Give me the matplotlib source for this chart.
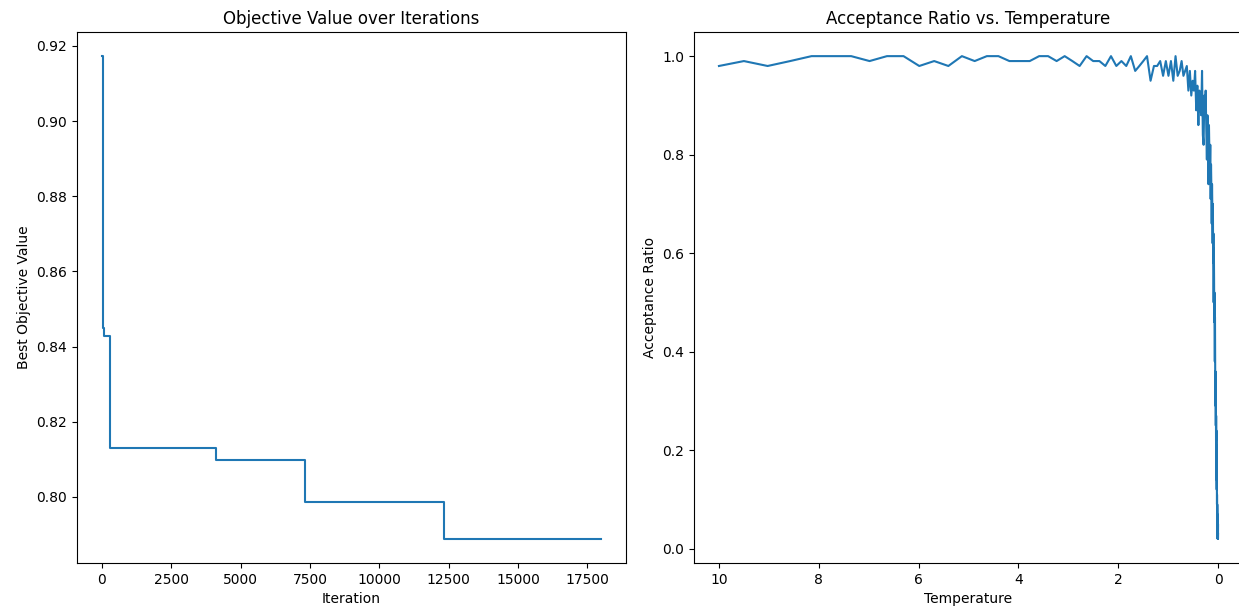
import matplotlib
matplotlib.use("Agg")
import matplotlib.pyplot as plt

# ---- Left panel: best objective value (level starts at each iteration) ----
change_iterations = [0, 20, 40, 75, 300, 4130, 7330, 12350, 17999]
best_values = [0.9173, 0.8963, 0.8449, 0.8427, 0.8129, 0.8099, 0.7987, 0.7888, 0.7888]

# ---- Right panel: acceptance ratio per temperature level ----
temperatures = [
    10.0, 9.5, 9.025, 8.574, 8.145, 7.738, 7.351, 6.983, 6.634, 6.302,
    5.987, 5.688, 5.404, 5.133, 4.877, 4.633, 4.401, 4.181, 3.972, 3.774,
    3.585, 3.406, 3.235, 3.074, 2.920, 2.774, 2.635, 2.503, 2.378, 2.259,
    2.146, 2.039, 1.937, 1.840, 1.748, 1.661, 1.578, 1.499, 1.424, 1.353,
    1.285, 1.221, 1.160, 1.102, 1.047, 0.9944, 0.9447, 0.8974, 0.8526, 0.8099,
    0.7694, 0.7310, 0.6944, 0.6597, 0.6267, 0.5954, 0.5656, 0.5374, 0.5105, 0.4850,
    0.4607, 0.4377, 0.4158, 0.3950, 0.3752, 0.3565, 0.3387, 0.3217, 0.3056, 0.2904,
    0.2759, 0.2621, 0.2490, 0.2365, 0.2247, 0.2134, 0.2028, 0.1926, 0.1830, 0.1739,
    0.1652, 0.1569, 0.1491, 0.1416, 0.1345, 0.1278, 0.1214, 0.1153, 0.1096, 0.1041,
    0.09888, 0.09394, 0.08924, 0.08478, 0.08054, 0.07651, 0.07269, 0.06905, 0.06560, 0.06232,
    0.05921, 0.05625, 0.05343, 0.05076, 0.04822, 0.04581, 0.04352, 0.04135, 0.03928, 0.03731,
    0.03545, 0.03368, 0.03199, 0.03039, 0.02887, 0.02743, 0.02606, 0.02475, 0.02352, 0.02234,
    0.02122, 0.02016, 0.01915, 0.01820, 0.01729, 0.01642, 0.01560, 0.01482, 0.01408, 0.01338,
    0.01271, 0.01207, 0.01147, 0.01090, 0.01035, 0.009834, 0.009342, 0.008875, 0.008431, 0.008010,
    0.007610, 0.007229, 0.006868, 0.006524, 0.006198, 0.005888, 0.005594, 0.005314, 0.005049, 0.004796,
    0.004556, 0.004329, 0.004112, 0.003907, 0.003711, 0.003526, 0.003349, 0.003182, 0.003023, 0.002872,
    0.002728, 0.002592, 0.002462, 0.002339, 0.002222, 0.002111, 0.002005, 0.001905, 0.001810, 0.001719,
    0.001633, 0.001552, 0.001474, 0.001400, 0.001330, 0.001264, 0.001201, 0.001141, 0.001084, 0.001029,
]

acceptance = [
    0.98, 0.99, 0.98, 0.99, 1.00, 1.00, 1.00, 0.99, 1.00, 1.00,
    0.98, 0.99, 0.98, 1.00, 0.99, 1.00, 1.00, 0.99, 0.99, 0.99,
    1.00, 1.00, 0.99, 1.00, 0.99, 0.98, 1.00, 0.99, 0.99, 0.98,
    1.00, 0.98, 0.99, 0.98, 1.00, 0.97, 0.98, 0.99, 1.00, 0.95,
    0.98, 0.98, 0.99, 0.96, 0.99, 0.96, 0.99, 0.95, 1.00, 0.96,
    0.97, 0.99, 0.96, 0.97, 0.98, 0.93, 0.97, 0.92, 0.95, 0.93,
    0.97, 0.89, 0.94, 0.86, 0.93, 0.90, 0.88, 0.97, 0.84, 0.82,
    0.92, 0.88, 0.93, 0.85, 0.79, 0.88, 0.83, 0.74, 0.86, 0.80,
    0.76, 0.82, 0.71, 0.78, 0.73, 0.66, 0.74, 0.69, 0.62, 0.70,
    0.58, 0.64, 0.50, 0.61, 0.55, 0.46, 0.52, 0.44, 0.38, 0.47,
    0.41, 0.32, 0.36, 0.29, 0.33, 0.25, 0.30, 0.22, 0.27, 0.19,
    0.24, 0.17, 0.21, 0.14, 0.18, 0.12, 0.16, 0.10, 0.13, 0.09,
    0.11, 0.08, 0.10, 0.07, 0.09, 0.06, 0.08, 0.05, 0.07, 0.05,
    0.06, 0.04, 0.05, 0.03, 0.06, 0.04, 0.03, 0.05, 0.04, 0.02,
    0.04, 0.03, 0.05, 0.03, 0.04, 0.02, 0.03, 0.04, 0.03, 0.05,
    0.02, 0.04, 0.03, 0.03, 0.04, 0.02, 0.03, 0.05, 0.03, 0.04,
    0.02, 0.03, 0.04, 0.03, 0.02, 0.04, 0.03, 0.03, 0.05, 0.02,
    0.03, 0.04, 0.03, 0.02, 0.04, 0.03, 0.03, 0.02, 0.04, 0.03,
]

W, H = 1239, 613
fig = plt.figure(figsize=(W / 100, H / 100), dpi=100)
ax1 = fig.add_axes([77 / W, (H - 563) / H, 549 / W, 531 / H])
ax2 = fig.add_axes([694 / W, (H - 563) / H, 549 / W, 531 / H])

ax1.step(change_iterations, best_values, where="post", color="#1f77b4", linewidth=1.5)
ax1.set_title("Objective Value over Iterations")
ax1.set_xlabel("Iteration")
ax1.set_ylabel("Best Objective Value")

ax2.plot(temperatures, acceptance, color="#1f77b4", linewidth=1.5)
ax2.invert_xaxis()
ax2.set_title("Acceptance Ratio vs. Temperature")
ax2.set_xlabel("Temperature")
ax2.set_ylabel("Acceptance Ratio")

fig.savefig("out.png", dpi=100)
